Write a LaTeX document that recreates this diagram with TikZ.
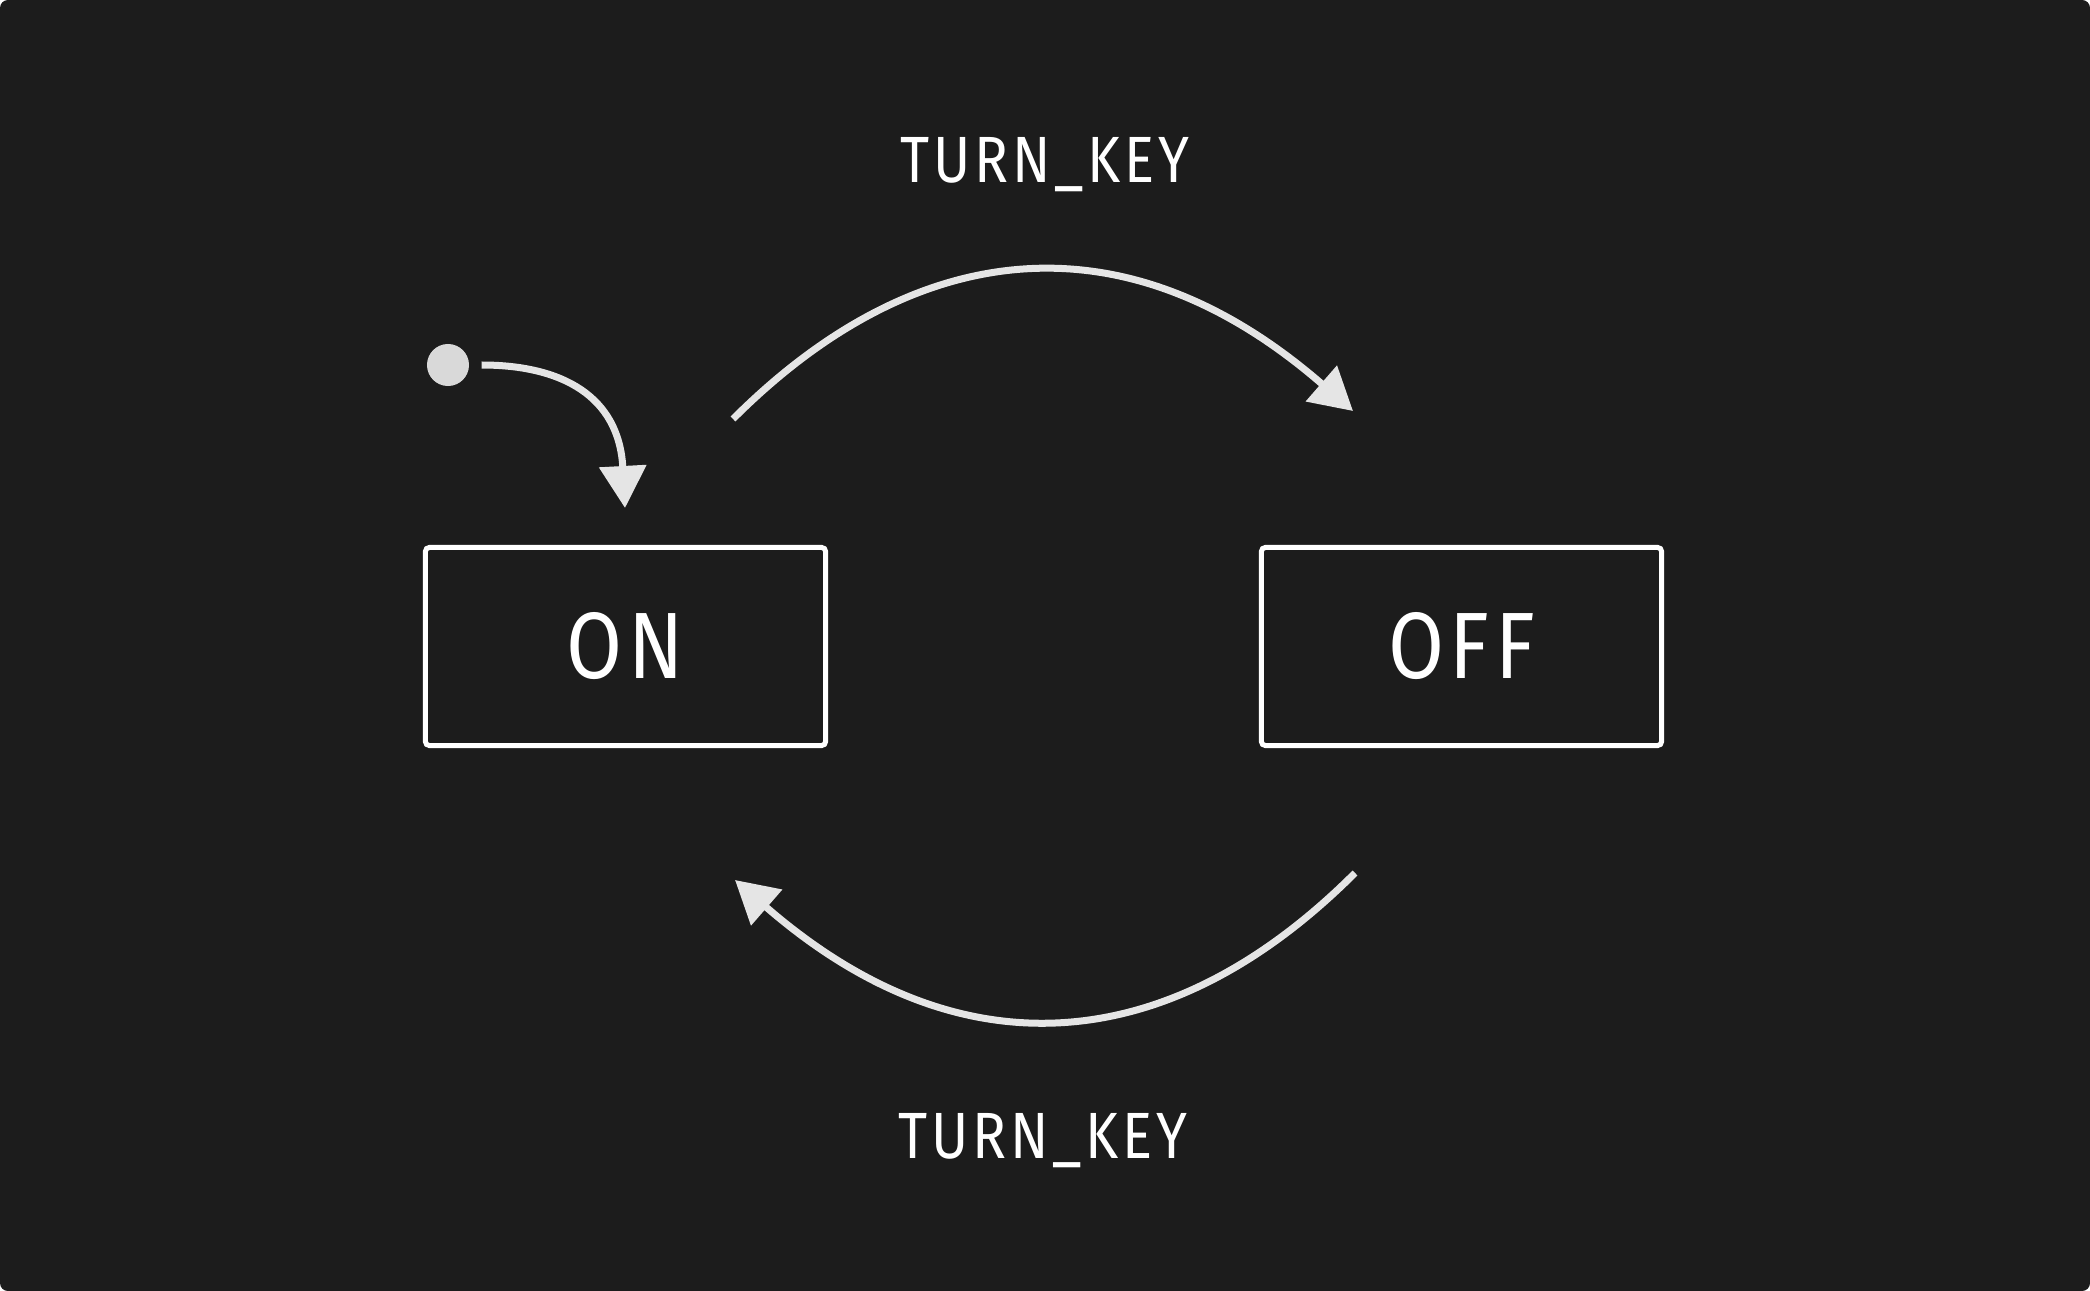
\documentclass[tikz,border=0pt]{standalone}
\usepackage{fontspec}
\setmainfont{Fira Sans}[FakeStretch=0.86, LetterSpace=6]
\usetikzlibrary{arrows.meta}
\definecolor{bgdark}{HTML}{1C1C1C}
\definecolor{edgegray}{HTML}{E5E5E5}
\definecolor{dotgray}{HTML}{D9D9D9}

\begin{document}
\begin{tikzpicture}[x=0.01cm,y=-0.01cm,
		state/.style={draw=white, line width=0.05cm, rounded corners=0.04cm, minimum width=4cm, minimum height=1.98cm, text=white, font=\fontsize{26.8}{30}\selectfont},
		event/.style={text=white, anchor=base, font=\fontsize{18.6}{22}\selectfont},
		trans/.style={draw=edgegray, line width=0.07cm, -{Triangle[length=0.42cm, width=0.46cm]}}]
			\useasboundingbox (0,0) rectangle (2090,1291);
			\fill[white] (0,0) rectangle (2090,1291);
			\fill[bgdark, rounded corners=0.08cm] (0,0) rectangle (2090,1291);
			\node[state] (on) at (625.5,646.5) {ON};
			\node[state] (off) at (1461.5,646.5) {OFF};
			\node[event] (keytop) at (1045,183) {TURN\_KEY};
			\node[event] (keybot) at (1043,1158) {TURN\_KEY};
			\node[circle, fill=dotgray, minimum size=0.42cm, inner sep=0pt] (start) at (448,365) {};
			\coordinate (on-in) at (625,508);
			\coordinate (top-out) at (733,419);
			\coordinate (top-in) at (1353,411);
			\coordinate (bot-out) at (1355,873);
			\coordinate (bot-in) at (735,880);
			\draw[trans, shorten <=0.12cm] (start.east) .. controls +(92,0) and +(-6,-112) .. (on-in);
			\draw[trans] (top-out) .. controls +(180,-180) and +(-230,-200) .. (top-in);
			\draw[trans] (bot-out) .. controls +(-180,180) and +(230,200) .. (bot-in);
		\end{tikzpicture}
\end{document}
